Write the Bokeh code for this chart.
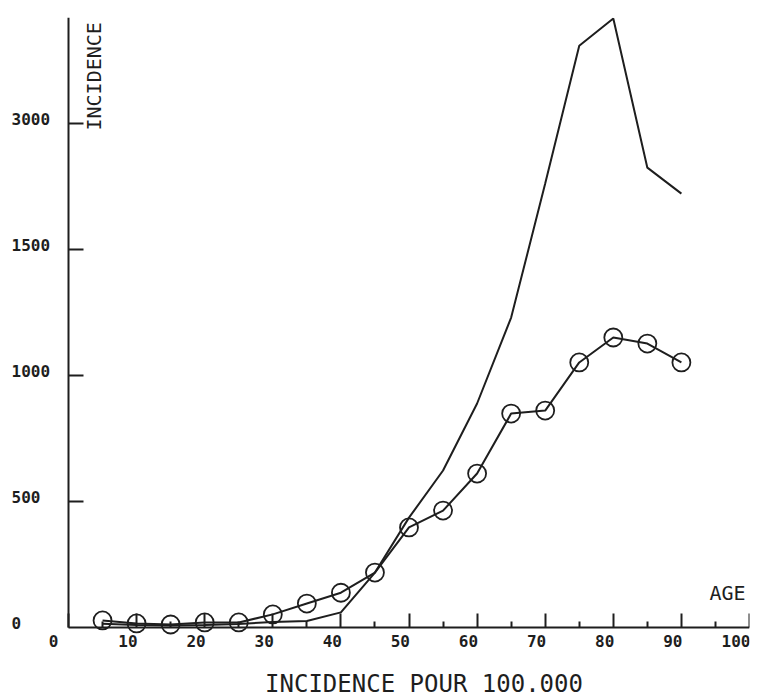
from math import pi
from bokeh.plotting import figure
from bokeh.models import Range1d, FixedTicker, Label
from bokeh.embed import file_html
from bokeh.resources import INLINE

# ---- data ----
ages = [5, 10, 15, 20, 25, 30, 35, 40, 45, 50, 55, 60, 65, 70, 75, 80, 85, 90]
incidence_circles = [28, 16, 12, 20, 20, 52, 95, 138, 218, 397, 464, 611, 849, 861, 1052, 1151, 1127, 1052]
incidence_line = [15, 10, 8, 10, 14, 22, 26, 60, 218, 436, 623, 889, 1230, 1762, 2309, 2417, 1825, 1722]

x_major_ticks = [0, 10, 20, 30, 40, 50, 60, 70, 80, 90, 100]
x_minor_ticks = [5, 15, 25, 35, 45, 55, 65, 75, 85, 95]
x_tick_labels = ["0", "10", "20", "30", "40", "50", "60", "70", "80", "90", "100"]
y_major_ticks = [500, 1000, 1500, 2000]
y_label_values = [0, 500, 1000, 1500, 2000]
y_tick_labels = ["0", "500", "1000", "1500", "3000"]

X_END = 100
Y_END = 2421
INK = "#1e1e1e"
FONT = "DejaVu Sans Mono"

# ---- layout (pixels) ----
W, H = 760, 698
FRAME_L, FRAME_R, FRAME_T, FRAME_B = 8, 749, 17, 698
ORIGIN_X, ORIGIN_Y = 68, 627
x_start = -(ORIGIN_X - FRAME_L) / (FRAME_R - ORIGIN_X) * X_END
y_start = -(FRAME_B - ORIGIN_Y) / (ORIGIN_Y - FRAME_T) * Y_END

p = figure(width=W, height=H,
           x_range=Range1d(x_start, X_END), y_range=Range1d(y_start, Y_END),
           output_backend="svg", toolbar_location=None,
           min_border_left=FRAME_L, min_border_right=W - FRAME_R,
           min_border_top=FRAME_T, min_border_bottom=H - FRAME_B)
p.outline_line_color = None
p.xgrid.visible = False
p.ygrid.visible = False
p.background_fill_color = "white"
p.border_fill_color = "white"

# x axis (drawn at y = 0)
xa = p.xaxis[0]
xa.fixed_location = 0
xa.bounds = (0, X_END)
xa.ticker = FixedTicker(ticks=x_major_ticks, minor_ticks=x_minor_ticks)
xa.major_label_overrides = {t: "" for t in x_major_ticks}
xa.major_label_text_font_size = "0px"
xa.major_label_standoff = 0
xa.axis_line_color = INK
xa.axis_line_width = 2
xa.major_tick_line_color = INK
xa.major_tick_line_width = 2
xa.major_tick_in = 14
xa.major_tick_out = 0
xa.minor_tick_line_color = INK
xa.minor_tick_line_width = 2
xa.minor_tick_in = 6
xa.minor_tick_out = 0

# y axis (drawn at x = 0)
ya = p.yaxis[0]
ya.fixed_location = 0
ya.bounds = (0, Y_END)
ya.ticker = FixedTicker(ticks=y_major_ticks)
ya.major_label_overrides = {t: "" for t in y_major_ticks}
ya.major_label_text_font_size = "0px"
ya.major_label_standoff = 0
ya.axis_line_color = INK
ya.axis_line_width = 2
ya.major_tick_line_color = INK
ya.major_tick_line_width = 2
ya.major_tick_in = 15
ya.major_tick_out = 0
ya.minor_tick_line_color = None

# series
p.line(ages, incidence_line, line_color=INK, line_width=2)
p.line(ages, incidence_circles, line_color=INK, line_width=2)
p.scatter(ages, incidence_circles, marker="circle", size=18,
          fill_color=None, line_color=INK, line_width=1.8)

# tick labels
for v, t in zip(x_major_ticks, x_tick_labels):
    p.add_layout(Label(x=v, y=0, text=t, x_offset=(-10 if v == 0 else 1), y_offset=-13,
                       text_align="right", text_baseline="middle",
                       text_font=FONT, text_font_style="bold",
                       text_font_size="16px", text_color=INK))
for v, t in zip(y_label_values, y_tick_labels):
    p.add_layout(Label(x=0, y=v, text=t, x_offset=-57, y_offset=5,
                       text_align="left", text_baseline="middle",
                       text_font=FONT, text_font_style="bold",
                       text_font_size="16px", text_color=INK))

# titles
p.add_layout(Label(x=X_END, y=0, text="AGE", x_offset=-4, y_offset=35,
                   text_align="right", text_baseline="middle",
                   text_font=FONT, text_font_size="20px", text_color=INK))
p.add_layout(Label(x=0, y=Y_END, text="INCIDENCE", x_offset=25, y_offset=-113,
                   angle=pi / 2, text_align="left", text_baseline="middle",
                   text_font=FONT, text_font_size="20px", text_color=INK))
p.add_layout(Label(x=X_END / 2, y=0, text="INCIDENCE POUR 100.000", x_offset=15, y_offset=-56,
                   text_align="center", text_baseline="middle",
                   text_font=FONT, text_font_size="24px", text_color=INK))

open("out.html", "w").write(file_html(p, INLINE))
